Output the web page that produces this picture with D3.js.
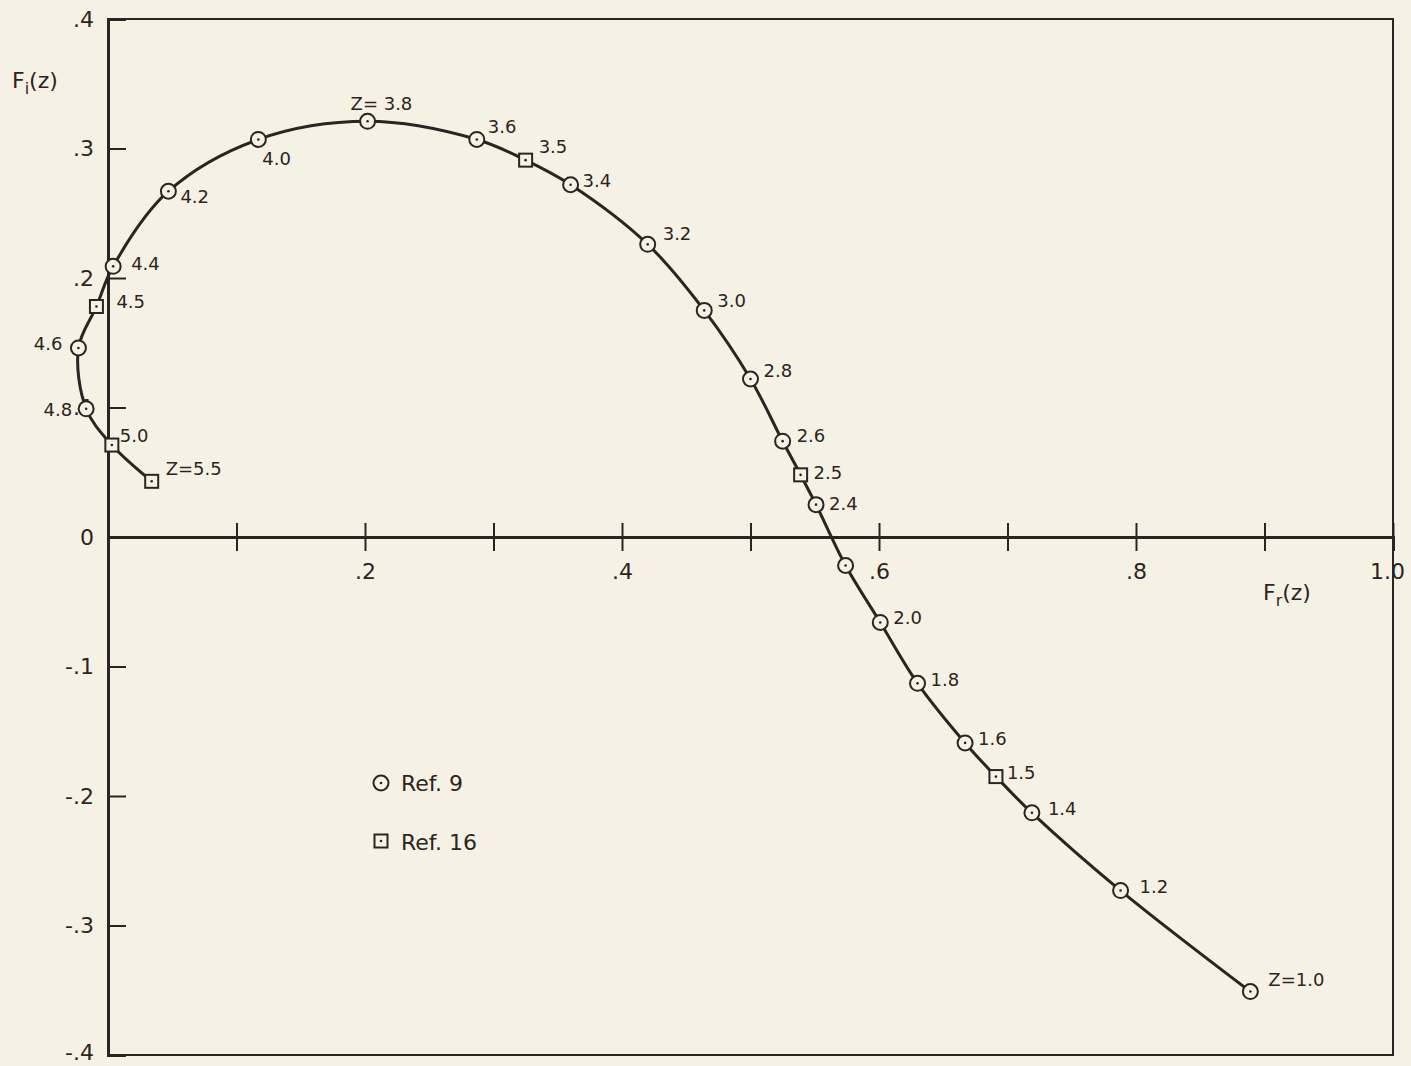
<!DOCTYPE html>
<html>
<head>
<meta charset="utf-8">
<script src="https://cdn.jsdelivr.net/npm/d3@7"></script>
<style>
  body { margin: 0; background: #f6f1e5; }
  svg { display: block; }
  text { font-family: "DejaVu Sans", sans-serif; fill: #2a2522; }
</style>
</head>
<body>
<svg id="chart"></svg>
<script>
// Ref. 9 (circles): Z, Fr, Fi
const ref9Z = [1.0, 1.2, 1.4, 1.6, 1.8, 2.0, 2.2, 2.4, 2.6, 2.8, 3.0, 3.2, 3.4, 3.6, 3.8, 4.0, 4.2, 4.4, 4.6, 4.8];
const ref9Fr = [0.889, 0.788, 0.719, 0.667, 0.630, 0.601, 0.574, 0.551, 0.525, 0.500, 0.464, 0.420, 0.360, 0.287, 0.202, 0.117, 0.047, 0.004, -0.023, -0.017];
const ref9Fi = [-0.351, -0.273, -0.213, -0.159, -0.113, -0.066, -0.022, 0.025, 0.074, 0.122, 0.175, 0.226, 0.272, 0.307, 0.321, 0.307, 0.267, 0.209, 0.146, 0.099];

// Ref. 16 (squares)
const ref16Z = [1.5, 2.5, 3.5, 4.5, 5.0, 5.5];
const ref16Fr = [0.691, 0.539, 0.325, -0.009, 0.003, 0.034];
const ref16Fi = [-0.185, 0.048, 0.291, 0.178, 0.071, 0.043];

const xTicks = [0.1, 0.2, 0.3, 0.4, 0.5, 0.6, 0.7, 0.8, 0.9, 1.0];
const xTickLabels = [0.2, 0.4, 0.6, 0.8, 1.0];
const yTicks = [0.4, 0.3, 0.2, 0.1, 0, -0.1, -0.2, -0.3, -0.4];

// label text per Z and where it sits relative to its marker
const pointLabels = {
  1.0: { t: 'Z=1.0', dx: 18, dy: -6 }, 1.2: { t: '1.2', dx: 19, dy: 2 }, 1.4: { t: '1.4', dx: 16, dy: 2 },
  1.5: { t: '1.5', dx: 11, dy: 2 }, 1.6: { t: '1.6', dx: 13, dy: 2 }, 1.8: { t: '1.8', dx: 13, dy: 3 },
  2.0: { t: '2.0', dx: 13, dy: 2 }, 2.4: { t: '2.4', dx: 13, dy: 5 }, 2.5: { t: '2.5', dx: 13, dy: 4 },
  2.6: { t: '2.6', dx: 14, dy: 1 }, 2.8: { t: '2.8', dx: 13, dy: -2 }, 3.0: { t: '3.0', dx: 13, dy: -3 },
  3.2: { t: '3.2', dx: 15, dy: -4 }, 3.4: { t: '3.4', dx: 12, dy: 2 }, 3.5: { t: '3.5', dx: 13, dy: -7 },
  3.6: { t: '3.6', dx: 11, dy: -6 }, 3.8: { t: 'Z= 3.8', dx: -17, dy: -11 }, 4.0: { t: '4.0', dx: 4, dy: 26 },
  4.2: { t: '4.2', dx: 12, dy: 12 }, 4.4: { t: '4.4', dx: 18, dy: 4 }, 4.5: { t: '4.5', dx: 20, dy: 2 },
  4.6: { t: '4.6', dx: -16, dy: 2, end: true }, 4.8: { t: '4.8', dx: -14, dy: 7, end: true },
  5.0: { t: '5.0', dx: 8, dy: -3 }, 5.5: { t: 'Z=5.5', dx: 14, dy: -6 }
};

const width = 1411, height = 1066;
const ink = '#2a2522';
const paper = '#f6f1e5';
const svg = d3.select('#chart').attr('width', width).attr('height', height);

const x = d3.scaleLinear().domain([0, 1]).range([108, 1393]);
const y = d3.scaleLinear().domain([-0.4, 0.4]).range([1055, 19]);

const ref9 = ref9Z.map((z, i) => ({ z, fr: ref9Fr[i], fi: ref9Fi[i] }));
const ref16 = ref16Z.map((z, i) => ({ z, fr: ref16Fr[i], fi: ref16Fi[i] }));
const all = ref9.concat(ref16).sort((a, b) => a.z - b.z);

const fmt = d => d3.format('.1f')(d).replace('0.', '.').replace('−', '-');

// frame
svg.append('rect')
  .attr('x', x(0)).attr('y', y(0.4))
  .attr('width', x(1) - x(0)).attr('height', y(-0.4) - y(0.4))
  .attr('fill', 'none').attr('stroke', ink).attr('stroke-width', 2);

// y axis (ticks point inward)
const yAxis = d3.axisLeft(y)
  .tickValues(yTicks)
  .tickSize(-18)
  .tickPadding(14)
  .tickFormat(d => d === 0 ? '0' : fmt(d));
const yg = svg.append('g')
  .attr('transform', `translate(${x(0)},0)`)
  .call(yAxis);
yg.select('.domain').attr('stroke', ink).attr('stroke-width', 3);
yg.selectAll('.tick line').attr('stroke', ink).attr('stroke-width', 2)
  .attr('display', d => (d === 0 || Math.abs(d) === 0.4) ? 'none' : null);
yg.selectAll('.tick text')
  .attr('font-size', 22).attr('font-family', '"DejaVu Sans", sans-serif').attr('fill', ink)
  .attr('y', d => d === -0.4 ? -3 : 0);

// x axis at Fi = 0, ticks cross the line
const xAxis = d3.axisBottom(x)
  .tickValues(xTicks)
  .tickSize(14)
  .tickPadding(12)
  .tickFormat(d => xTickLabels.includes(d) ? (d === 1 ? '1.0' : fmt(d)) : '');
const xg = svg.append('g')
  .attr('transform', `translate(0,${y(0)})`)
  .call(xAxis);
xg.select('.domain').attr('stroke', ink).attr('stroke-width', 3);
xg.selectAll('.tick line').attr('y1', -14).attr('stroke', ink).attr('stroke-width', 2);
xg.selectAll('.tick text').attr('font-size', 22).attr('font-family', '"DejaVu Sans", sans-serif').attr('fill', ink)
  .attr('dx', d => d === 1 ? -6 : 0);

// axis titles
const fi = svg.append('text').attr('x', 12).attr('y', 88).attr('font-size', 22);
fi.append('tspan').text('F');
fi.append('tspan').attr('dy', 6).attr('font-size', 16).text('i');
fi.append('tspan').attr('dy', -6).text('(z)');
const fr = svg.append('text').attr('x', 1263).attr('y', 600).attr('font-size', 22);
fr.append('tspan').text('F');
fr.append('tspan').attr('dy', 6).attr('font-size', 16).text('r');
fr.append('tspan').attr('dy', -6).text('(z)');

// curve through all points in order of Z
const line = d3.line()
  .x(d => x(d.fr))
  .y(d => y(d.fi))
  .curve(d3.curveCatmullRom.alpha(0.5));
svg.append('path')
  .datum(all)
  .attr('d', line)
  .attr('fill', 'none')
  .attr('stroke', ink)
  .attr('stroke-width', 3);

function drawCircle(g, cx, cy) {
  g.append('circle').attr('cx', cx).attr('cy', cy).attr('r', 7.5)
    .attr('fill', paper).attr('stroke', ink).attr('stroke-width', 2);
  g.append('circle').attr('cx', cx).attr('cy', cy).attr('r', 1.3).attr('fill', ink);
}
function drawSquare(g, cx, cy) {
  g.append('rect').attr('x', cx - 6.5).attr('y', cy - 6.5).attr('width', 13).attr('height', 13)
    .attr('fill', paper).attr('stroke', ink).attr('stroke-width', 2);
  g.append('circle').attr('cx', cx).attr('cy', cy).attr('r', 1.3).attr('fill', ink);
}

const marks = svg.append('g');
ref9.forEach(d => drawCircle(marks, x(d.fr), y(d.fi)));
ref16.forEach(d => drawSquare(marks, x(d.fr), y(d.fi)));

// point labels
svg.append('g').selectAll('text')
  .data(all.filter(d => pointLabels[d.z]))
  .join('text')
  .attr('x', d => x(d.fr) + pointLabels[d.z].dx)
  .attr('y', d => y(d.fi) + pointLabels[d.z].dy)
  .attr('text-anchor', d => pointLabels[d.z].end ? 'end' : 'start')
  .attr('font-size', 18)
  .text(d => pointLabels[d.z].t);

// legend
const leg = svg.append('g');
drawCircle(leg, 381, 783);
leg.append('text').attr('x', 401).attr('y', 791).attr('font-size', 22).text('Ref. 9');
drawSquare(leg, 381, 841);
leg.append('text').attr('x', 401).attr('y', 850).attr('font-size', 22).text('Ref. 16');
</script>
</body>
</html>
